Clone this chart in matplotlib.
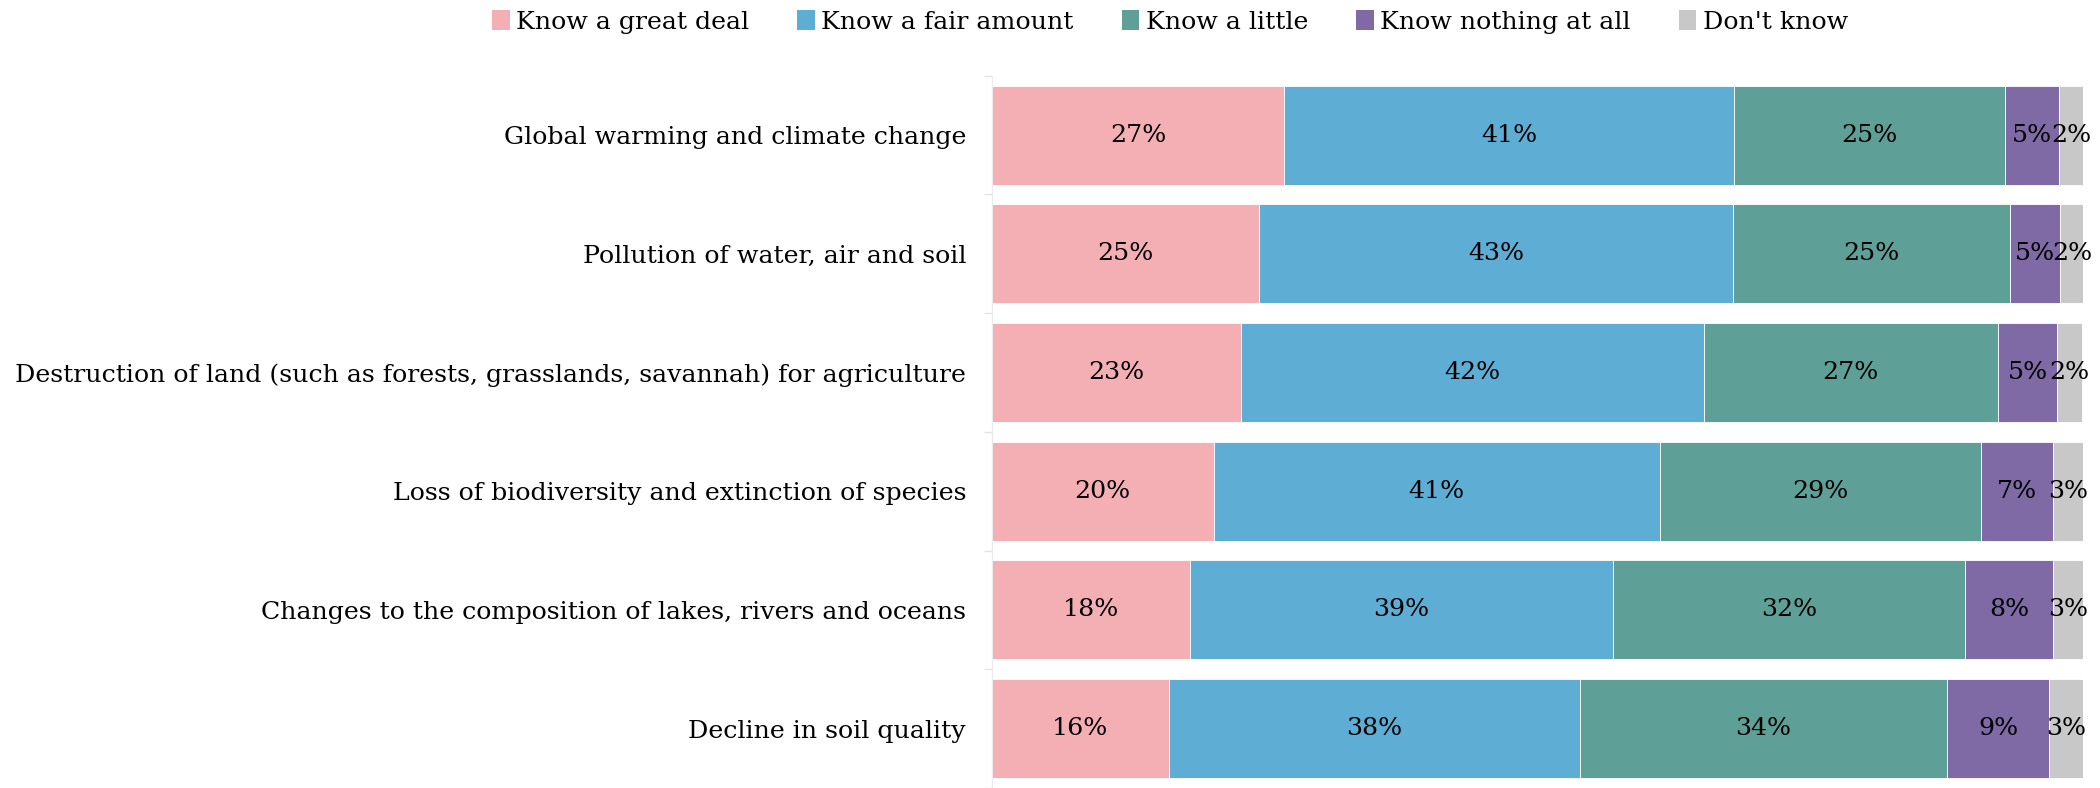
import matplotlib
matplotlib.use("Agg")
import matplotlib.pyplot as plt
from matplotlib.patches import Patch
import numpy as np

categories = [
    "Global warming and climate change",
    "Pollution of water, air and soil",
    "Destruction of land (such as forests, grasslands, savannah) for agriculture",
    "Loss of biodiversity and extinction of species",
    "Changes to the composition of lakes, rivers and oceans",
    "Decline in soil quality",
]
series_names = ["Know a great deal", "Know a fair amount", "Know a little",
                "Know nothing at all", "Don't know"]
great_deal = [26.8, 24.5, 22.8, 20.3, 18.1, 16.2]
fair_amount = [41.2, 43.4, 42.4, 40.9, 38.8, 37.7]
a_little = [24.8, 25.4, 27.0, 29.4, 32.3, 33.6]
nothing = [5.0, 4.6, 5.4, 6.6, 8.0, 9.4]
dont_know = [2.2, 2.1, 2.3, 2.8, 2.8, 3.1]
labels_great = ["27%", "25%", "23%", "20%", "18%", "16%"]
labels_fair = ["41%", "43%", "42%", "41%", "39%", "38%"]
labels_little = ["25%", "25%", "27%", "29%", "32%", "34%"]
labels_nothing = ["5%", "5%", "5%", "7%", "8%", "9%"]
labels_dk = ["2%", "2%", "2%", "3%", "3%", "3%"]

colors = ["#F4AFB4", "#5DADD4", "#5EA097", "#7F6AA6", "#C8C8C8"]
FONT = ["DejaVu Serif"]
FS = 18.2

W, H = 2100, 788
fig = plt.figure(figsize=(W / 100, H / 100), dpi=100)
ax_left, ax_right = 992, 2083.3
ax_top, ax_bottom = 75.7, 788
ax = fig.add_axes([ax_left / W, 1 - ax_bottom / H, (ax_right - ax_left) / W, (ax_bottom - ax_top) / H])

pitch = 119.7
ymax = -0.5 + (ax_bottom - ax_top) / pitch
ax.set_ylim(ymax, -0.5)
ax.set_xlim(0, 100)

series = [great_deal, fair_amount, a_little, nothing, dont_know]
labs = [labels_great, labels_fair, labels_little, labels_nothing, labels_dk]
y = np.arange(len(categories))
left = np.zeros(len(categories))
for vals, lab, c in zip(series, labs, colors):
    vals = np.array(vals)
    ax.barh(y, vals, left=left, height=0.833, color=c, edgecolor="white", linewidth=0.6)
    for yi, l, v, t in zip(y, left, vals, lab):
        ax.text(l + v / 2, yi, t, ha="center", va="center", fontsize=FS, family=FONT, color="black")
    left += vals

ax.set_yticks(y)
ax.set_yticklabels(categories, fontsize=FS, family=FONT)
ax.tick_params(axis="y", which="major", length=0, pad=18.7)
ax.set_yticks(np.arange(-0.5, len(categories), 1), minor=True)
ax.tick_params(axis="y", which="minor", length=6, color="#e3e3e3", width=1)
ax.set_xticks([])
for s in ["top", "right", "bottom"]:
    ax.spines[s].set_visible(False)
ax.spines["left"].set_color("#ebebeb")

handles = [Patch(facecolor=c, edgecolor="none") for c in colors]
fig.legend(handles, series_names, loc="center", bbox_to_anchor=(1170 / W, 1 - 22 / H),
           ncol=5, frameon=False, prop={"family": FONT, "size": FS},
           handlelength=0.7, handleheight=0.85, handletextpad=0.25, columnspacing=1.9)

fig.savefig("out.png", dpi=100)
